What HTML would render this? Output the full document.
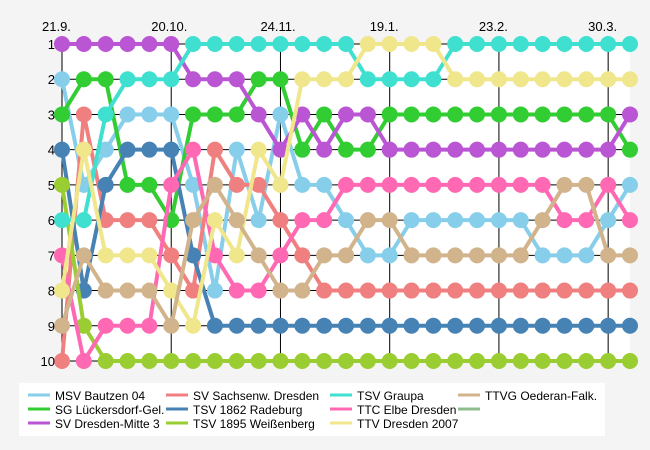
<!DOCTYPE html>
<html><head><meta charset="utf-8"><style>
body{margin:0;background:#f4f4f4;}
svg{display:block;font-family:"Liberation Sans",sans-serif;}
</style></head><body>
<svg id="chart" width="650" height="450">
<rect x="0" y="0" width="650" height="450" fill="#f4f4f4"/>
<rect x="62" y="44" width="568" height="317" fill="#fff"/>
<g id="grid"></g><g id="series"></g><g id="labels"></g>
<rect x="19" y="383" width="586" height="53" fill="#fff"/>
<g id="legend"></g>
</svg>
<script>
const dateLabels=["21.9.","20.10.","24.11.","19.1.","23.2.","30.3."];
const dateIndex=[0,5,10,15,20,25];
const rankTicks=[1,2,3,4,5,6,7,8,9,10];
const teams=["MSV Bautzen 04","SG Lückersdorf-Gel.","SV Dresden-Mitte 3","SV Sachsenw. Dresden","TSV 1862 Radeburg","TSV 1895 Weißenberg","TSV Graupa","TTC Elbe Dresden","TTV Dresden 2007","TTVG Oederan-Falk."];
const colors=["#87CEEB","#32CD32","#BA55D3","#F08080","#4682B4","#9ACD32","#40E0D0","#FF69B4","#F0E68C","#D2B48C"];
const msv=[2,5,4,3,3,3,5,8,4,6,3,5,5,6,7,7,6,6,6,6,6,6,7,7,7,6,5];
const sgl=[3,2,2,5,5,6,3,3,3,2,2,4,3,4,4,3,3,3,3,3,3,3,3,3,3,3,4];
const svd=[1,1,1,1,1,1,2,2,2,3,4,3,4,3,3,4,4,4,4,4,4,4,4,4,4,4,3];
const svs=[10,3,6,6,6,7,8,4,5,5,6,7,8,8,8,8,8,8,8,8,8,8,8,8,8,8,8];
const tsr=[4,8,5,4,4,4,7,9,9,9,9,9,9,9,9,9,9,9,9,9,9,9,9,9,9,9,9];
const tsw=[5,9,10,10,10,10,10,10,10,10,10,10,10,10,10,10,10,10,10,10,10,10,10,10,10,10,10];
const tsg=[6,6,3,2,2,2,1,1,1,1,1,1,1,1,2,2,2,2,1,1,1,1,1,1,1,1,1];
const ttc=[7,10,9,9,9,5,4,7,8,8,7,6,6,5,5,5,5,5,5,5,5,5,5,6,6,5,6];
const ttv=[8,4,7,7,7,8,9,6,7,4,5,2,2,2,1,1,1,1,2,2,2,2,2,2,2,2,2];
const tto=[9,7,8,8,8,9,6,5,6,7,8,8,7,7,6,6,7,7,7,7,7,7,6,5,5,7,7];
const seriesData=[msv,sgl,svd,svs,tsr,tsw,tsg,ttc,ttv,tto];
const NS="http://www.w3.org/2000/svg";
const X=i=>62+i*(568/26);
const Y=r=>44+(r-1)*(317/9);
function mk(t,a,p){const e=document.createElementNS(NS,t);for(const k in a)e.setAttribute(k,a[k]);p.appendChild(e);return e;}
const grid=document.getElementById('grid'),labels=document.getElementById('labels');
rankTicks.forEach(r=>{
 const l=mk('line',{x1:57,x2:630,y1:Y(r),y2:Y(r),stroke:'#000','stroke-width':1},grid);
 
 
 const t=mk('text',{x:55,y:Y(r)+5,'text-anchor':'end','font-size':13,fill:'#000'},labels);
 t.textContent=r;
 
 
});
dateIndex.forEach((di,k)=>{
 const l=mk('line',{x1:X(di),x2:X(di),y1:38,y2:361,stroke:'#000','stroke-width':1},grid);
 
 
 const t=mk('text',{x:X(di)-20,y:31,'font-size':13,fill:'#000'},labels);
 t.textContent=dateLabels[k];
 
 
});
const sg=document.getElementById('series');
seriesData.forEach((d,s)=>{
 const g=mk('g',{},sg);
 
 
 const pl=mk('polyline',{points:d.map((v,i)=>X(i)+','+Y(v)).join(' '),fill:'none',stroke:colors[s],'stroke-width':4},g);
 
 
 d.forEach((v,i)=>{
  const c=mk('circle',{cx:X(i),cy:Y(v),r:8,fill:colors[s]},g);
  
  
 });
});
const lg=document.getElementById('legend');
const colX=[28,166,330,458],rowY=[395,409,423];
const legendItems=teams.concat([""]);
const legendColors=colors.concat(["#8FBC8F"]);
legendItems.forEach((n,k)=>{
 const cx=colX[Math.floor(k/3)],cy=rowY[k%3];
 const l=mk('line',{x1:cx,x2:cx+22,y1:cy,y2:cy,stroke:legendColors[k],'stroke-width':3},lg);
 
 
 const t=mk('text',{x:cx+27,y:cy+5,'font-size':12,fill:'#000'},lg);
 t.textContent=n;
 
 
});
</script>
</body></html>
